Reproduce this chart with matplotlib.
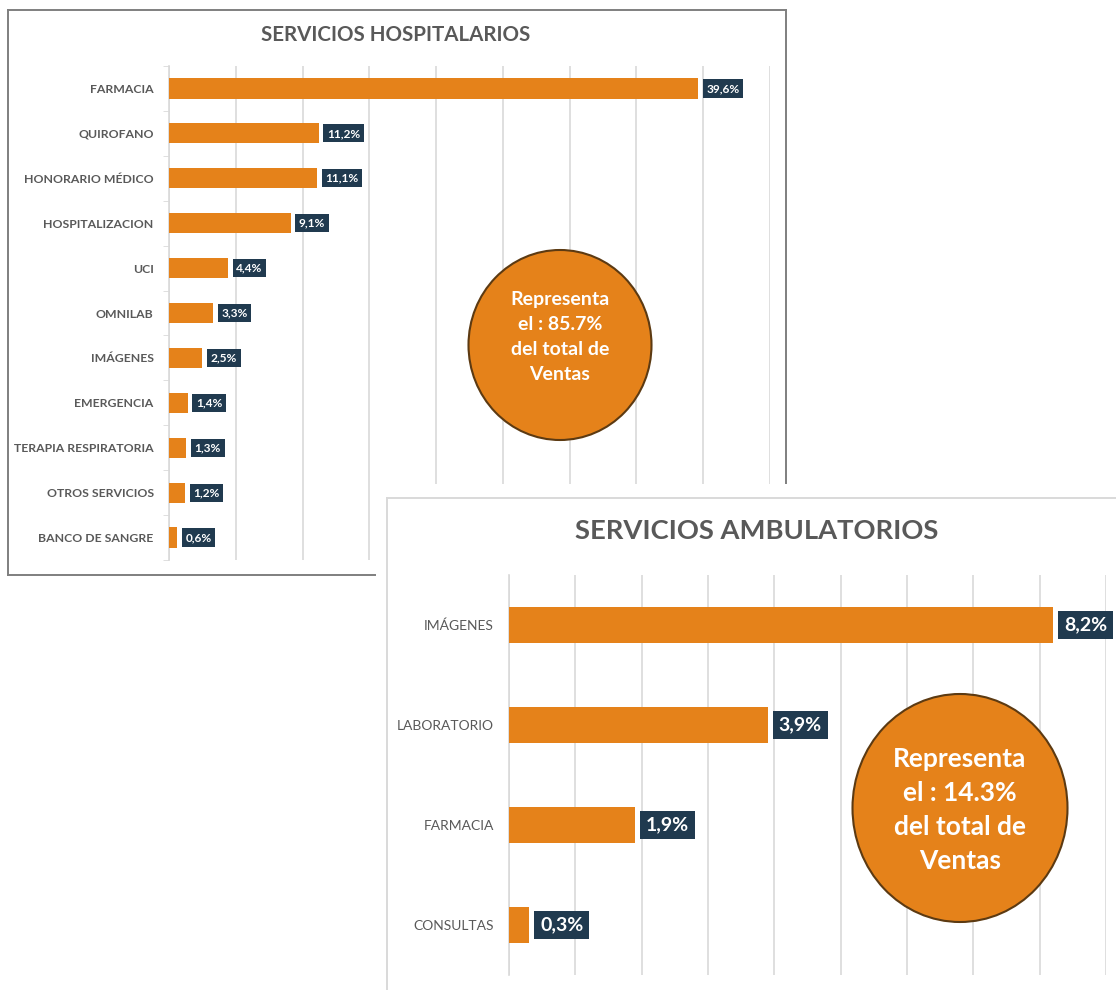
import matplotlib
matplotlib.use("Agg")
import matplotlib.pyplot as plt
import numpy as np
from matplotlib.patches import Ellipse

plt.rcParams["font.family"] = ["Lato", "DejaVu Sans"]

# ---- data ----
hosp_cats = ["FARMACIA", "QUIROFANO", "HONORARIO MÉDICO", "HOSPITALIZACION", "UCI",
             "OMNILAB", "IMÁGENES", "EMERGENCIA", "TERAPIA RESPIRATORIA",
             "OTROS SERVICIOS", "BANCO DE SANGRE"]
hosp_vals = [39.6, 11.2, 11.1, 9.1, 4.4, 3.3, 2.5, 1.4, 1.3, 1.2, 0.6]
hosp_share = "85.7%"

amb_cats = ["IMÁGENES", "LABORATORIO", "FARMACIA", "CONSULTAS"]
amb_vals = [8.2, 3.9, 1.9, 0.3]
amb_share = "14.3%"

ORANGE = "#E5821A"
NAVY = "#203A4F"
EDGE = "#5C3A12"
GRAY_TXT = "#595959"
GRID = "#d9d9d9"

W, H = 1116, 990


def px(l, t, r, b):
    return [l / W, 1 - b / H, (r - l) / W, (b - t) / H]


def ax_frac(box, x, y):
    l, t, r, b = box
    return (x - l) / (r - l), (b - y) / (b - t)


def blank(ax):
    ax.set_xticks([]); ax.set_yticks([])
    for s in ax.spines.values():
        s.set_visible(False)


def bars(ax, cats, vals, xmax, step, bar_h, lab_size, lab_bold, val_size, off):
    y = np.arange(len(cats))
    ax.barh(y, vals, height=bar_h, color=ORANGE, zorder=3)
    ax.set_xlim(0, xmax)
    ax.set_ylim(len(cats) - 0.5, -0.5)
    ax.set_xticks(np.arange(0, xmax + 0.01, step))
    ax.grid(axis="x", color=GRID, lw=1.2, zorder=0)
    ax.tick_params(axis="x", length=0, labelbottom=False)
    ax.set_yticks(y)
    ax.set_yticklabels(cats, fontsize=lab_size, color=GRAY_TXT,
                       fontweight="bold" if lab_bold else "normal")
    ax.tick_params(axis="y", length=0, pad=11)
    for s in ["top", "right", "bottom"]:
        ax.spines[s].set_visible(False)
    ax.spines["left"].set_color(GRID)
    ax.spines["left"].set_linewidth(1.2)
    for yi, v in zip(y, vals):
        ax.annotate(f"{v:.1f}%".replace(".", ","), (v, yi), xytext=(off, 0),
                    textcoords="offset points", ha="left", va="center",
                    fontsize=val_size, fontweight="bold", color="white", zorder=5,
                    bbox=dict(boxstyle="square,pad=0.3", fc=NAVY, ec="none"))


fig = plt.figure(figsize=(W / 100, H / 100), dpi=100)

# ---- panel 1: hospitalarios ----
bg1 = fig.add_axes(px(8, 10, 786, 575), zorder=0)
blank(bg1)
for s in bg1.spines.values():
    s.set_visible(True); s.set_color("#7f7f7f"); s.set_linewidth(1.4)
fig.text(396 / W, 1 - 35 / H, "SERVICIOS HOSPITALARIOS", ha="center", va="center",
         fontsize=14.8, fontweight="bold", color=GRAY_TXT, zorder=1)

box1 = (169, 66, 770, 560)
ax1 = fig.add_axes(px(*box1), zorder=1)
bars(ax1, hosp_cats, hosp_vals, 45, 5, 0.45, 8.8, True, 8.6, 6)
ax1.set_yticks(np.arange(-0.5, len(hosp_cats), 1), minor=True)
ax1.tick_params(axis="y", which="minor", length=4, color=GRID)

cx, cy = ax_frac(box1, 560, 345)
ax1.add_patch(Ellipse((cx, cy), 183 / 601, 190 / 494, transform=ax1.transAxes,
                      fc=ORANGE, ec=EDGE, lw=1.5, zorder=6))
ax1.text(cx, ax_frac(box1, 0, 337)[1], f"Representa\nel : {hosp_share}\ndel total de\nVentas",
         transform=ax1.transAxes, ha="center", va="center", multialignment="center",
         fontsize=14, fontweight="bold", color="white", linespacing=1.58, zorder=7)

# ---- panel 2: ambulatorios ----
bg2 = fig.add_axes(px(376, 484, 1116, 990), zorder=2)
blank(bg2)
fr2 = fig.add_axes(px(387, 498, 1120, 994), zorder=2.5)
blank(fr2)
fr2.patch.set_alpha(0)
for s in ["left", "top"]:
    fr2.spines[s].set_visible(True); fr2.spines[s].set_color(GRID); fr2.spines[s].set_linewidth(1.4)
fig.text(757 / W, 1 - 531 / H, "SERVICIOS AMBULATORIOS", ha="center", va="center",
         fontsize=19.7, fontweight="bold", color=GRAY_TXT, zorder=3)

box2 = (509, 575, 1106, 975)
ax2 = fig.add_axes(px(*box2), zorder=3)
bars(ax2, amb_cats, amb_vals, 9, 1, 0.36, 10, False, 14, 8)

cx, cy = ax_frac(box2, 960, 808)
ax2.add_patch(Ellipse((cx, cy), 215 / 597, 228 / 400, transform=ax2.transAxes,
                      fc=ORANGE, ec=EDGE, lw=1.5, zorder=6))
ax2.text(cx, ax_frac(box2, 0, 810)[1], f"Representa\nel : {amb_share}\ndel total de\nVentas",
         transform=ax2.transAxes, ha="center", va="center", multialignment="center",
         fontsize=19, fontweight="bold", color="white", linespacing=1.5, zorder=7)

fig.savefig("out.png", dpi=100)
